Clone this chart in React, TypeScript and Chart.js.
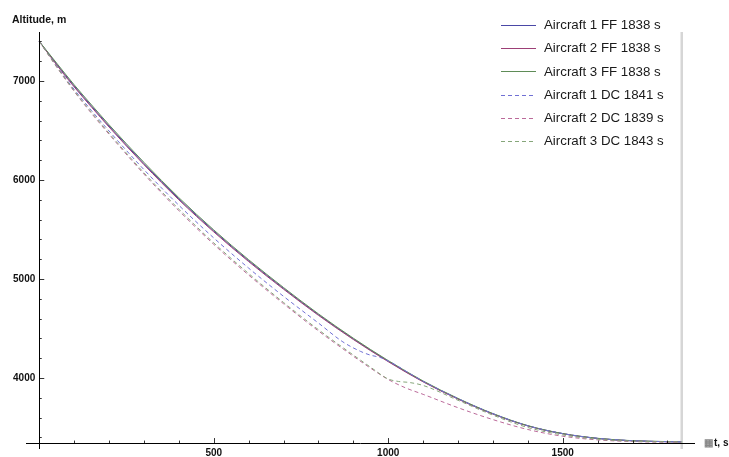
import { useEffect, useRef } from "react";
import { Chart, registerables } from "chart.js";

Chart.register(...registerables);

// Plot window (time in s, altitude in m)
const X_MIN = -38;
const X_MAX = 1879;
const Y_MIN = 3283;
const Y_MAX = 7495;
const AXIS_ORIGIN_T = 0;
const AXIS_ORIGIN_H = 3343;

const X_MAJOR_TICKS = [500, 1000, 1500];
const X_MINOR_TICKS = [100, 200, 300, 400, 600, 700, 800, 900, 1100, 1200, 1300, 1400, 1600, 1700, 1800];
const Y_MAJOR_TICKS = [4000, 5000, 6000, 7000];
const Y_MINOR_TICKS = [3400, 3600, 3800, 4200, 4400, 4600, 4800, 5200, 5400, 5600, 5800, 6200, 6400, 6600, 6800, 7200, 7400];

const END_TIME = 1841;

// Free-flight (FF) trajectories
const FF_T = [0, 50, 100, 150, 200, 300, 400, 500, 600, 700, 800, 900, 1000, 1100, 1200, 1300, 1400, 1500, 1600, 1700, 1800, 1838];
const FF1_ALT = [7400, 7170, 6950, 6745, 6545, 6165, 5810, 5485, 5185, 4905, 4640, 4395, 4170, 3965, 3790, 3638, 3517, 3438, 3390, 3366, 3357, 3355];
const FF2_ALT = [7400, 7162, 6940, 6735, 6535, 6155, 5800, 5476, 5176, 4897, 4633, 4389, 4165, 3961, 3787, 3636, 3516, 3437, 3389, 3365, 3357, 3355];
const FF3_ALT = [7400, 7180, 6962, 6758, 6558, 6178, 5822, 5496, 5195, 4914, 4648, 4402, 4176, 3970, 3794, 3641, 3519, 3439, 3391, 3367, 3358, 3355];

// Deconflicted (DC) trajectories
const DC1_T = [0, 50, 100, 150, 200, 300, 400, 500, 600, 700, 800, 870, 920, 950, 975, 1000, 1100, 1200, 1300, 1400, 1500, 1600, 1700, 1800, 1841];
const DC1_ALT = [7400, 7150, 6915, 6700, 6495, 6105, 5745, 5415, 5110, 4825, 4555, 4365, 4270, 4230, 4210, 4172, 3967, 3792, 3640, 3518, 3439, 3391, 3367, 3357, 3355];
const DC2_T = [0, 50, 100, 150, 200, 300, 400, 500, 600, 700, 800, 900, 950, 1000, 1050, 1100, 1200, 1300, 1400, 1500, 1600, 1700, 1800, 1839];
const DC2_ALT = [7400, 7140, 6895, 6672, 6462, 6060, 5690, 5350, 5040, 4750, 4475, 4220, 4098, 3985, 3900, 3835, 3700, 3580, 3480, 3412, 3375, 3358, 3352, 3352];
const DC3_T = [0, 50, 100, 150, 200, 300, 400, 500, 600, 700, 800, 900, 950, 1000, 1030, 1060, 1100, 1200, 1300, 1400, 1500, 1600, 1700, 1800, 1843];
const DC3_ALT = [7400, 7145, 6902, 6682, 6473, 6073, 5705, 5365, 5055, 4763, 4488, 4232, 4108, 3990, 3965, 3955, 3925, 3775, 3625, 3500, 3425, 3382, 3362, 3355, 3354];

const SERIES_NAMES = [
  "Aircraft 1 FF 1838 s",
  "Aircraft 2 FF 1838 s",
  "Aircraft 3 FF 1838 s",
  "Aircraft 1 DC 1841 s",
  "Aircraft 2 DC 1839 s",
  "Aircraft 3 DC 1843 s",
];

const COLORS = ["#4a48a6", "#9c3f76", "#5f8c57", "#7070d4", "#bb6a9a", "#86a67a"];
const DASHED = [false, false, false, true, true, true];

const FONT = '"Liberation Sans", Arial, sans-serif';

const pts = (t: number[], h: number[]) => t.map((x, i) => ({ x, y: h[i] }));

const axesPlugin = {
  id: "mmaAxes",
  afterDraw(chart: any) {
    const { ctx, scales, chartArea } = chart;
    const xs = scales.x;
    const ys = scales.y;
    const x0 = xs.getPixelForValue(AXIS_ORIGIN_T);
    const y0 = ys.getPixelForValue(AXIS_ORIGIN_H);
    ctx.save();
    ctx.strokeStyle = "#000";
    ctx.lineWidth = 1;
    ctx.beginPath();
    ctx.moveTo(chartArea.left, Math.round(y0) + 0.5);
    ctx.lineTo(chartArea.right, Math.round(y0) + 0.5);
    ctx.moveTo(Math.round(x0) + 0.5, chartArea.top);
    ctx.lineTo(Math.round(x0) + 0.5, chartArea.bottom);
    ctx.stroke();

    ctx.lineWidth = 0.8;
    ctx.beginPath();
    for (const v of X_MAJOR_TICKS) {
      const px = Math.round(xs.getPixelForValue(v)) + 0.5;
      ctx.moveTo(px, y0);
      ctx.lineTo(px, y0 - 5);
    }
    for (const v of X_MINOR_TICKS) {
      const px = Math.round(xs.getPixelForValue(v)) + 0.5;
      ctx.moveTo(px, y0);
      ctx.lineTo(px, y0 - 2.5);
    }
    for (const v of Y_MAJOR_TICKS) {
      const py = Math.round(ys.getPixelForValue(v)) + 0.5;
      ctx.moveTo(x0, py);
      ctx.lineTo(x0 + 5, py);
    }
    for (const v of Y_MINOR_TICKS) {
      const py = Math.round(ys.getPixelForValue(v)) + 0.5;
      ctx.moveTo(x0, py);
      ctx.lineTo(x0 + 2.5, py);
    }
    ctx.stroke();

    ctx.fillStyle = "#111";
    ctx.font = `bold 10px ${FONT}`;
    ctx.textAlign = "center";
    ctx.textBaseline = "middle";
    for (const v of X_MAJOR_TICKS) {
      ctx.fillText(String(v), xs.getPixelForValue(v), y0 + 10);
    }
    ctx.textAlign = "right";
    for (const v of Y_MAJOR_TICKS) {
      ctx.fillText(String(v), x0 - 4, ys.getPixelForValue(v) + 0.5);
    }

    // axis titles
    ctx.textAlign = "left";
    ctx.font = `bold 10.5px ${FONT}`;
    ctx.fillText("Altitude, m", 12, 20);
    ctx.font = `bold 10px ${FONT}`;
    ctx.fillStyle = "#888";
    ctx.fillText("\u25A6", 704, y0 + 0.5);
    ctx.fillStyle = "#111";
    ctx.fillText("t, s", 714, y0 + 0.5);

    // legend
    ctx.font = `13.3px ${FONT}`;
    ctx.textBaseline = "middle";
    SERIES_NAMES.forEach((name, i) => {
      const cy = 25 + i * 23.2;
      ctx.strokeStyle = COLORS[i];
      ctx.lineWidth = 1;
      ctx.setLineDash(DASHED[i] ? [4, 3] : []);
      ctx.beginPath();
      ctx.moveTo(501, Math.round(cy) + 0.5);
      ctx.lineTo(536, Math.round(cy) + 0.5);
      ctx.stroke();
      ctx.setLineDash([]);
      ctx.fillStyle = "#1a1a1a";
      ctx.fillText(name, 544, cy + 0.5);
    });
    ctx.restore();
  },
};

export default function App() {
  const canvasRef = useRef<HTMLCanvasElement | null>(null);

  useEffect(() => {
    document.body.style.margin = "0";
    const canvas = canvasRef.current;
    if (!canvas) return;

    const series = [
      pts(FF_T, FF1_ALT),
      pts(FF_T, FF2_ALT),
      pts(FF_T, FF3_ALT),
      pts(DC1_T, DC1_ALT),
      pts(DC2_T, DC2_ALT),
      pts(DC3_T, DC3_ALT),
    ];

    const datasets: any[] = [
      {
        label: "end",
        data: [
          { x: END_TIME, y: Y_MAX },
          { x: END_TIME, y: Y_MIN },
        ],
        borderColor: "#d6d6d6",
        borderWidth: 2.5,
        pointRadius: 0,
        order: 10,
      },
      ...series.map((data, i) => ({
        label: SERIES_NAMES[i],
        data,
        borderColor: COLORS[i],
        borderWidth: 1,
        borderDash: DASHED[i] ? [4, 3] : [],
        pointRadius: 0,
        cubicInterpolationMode: "monotone",
        fill: false,
        order: 6 - i,
      })),
    ];

    const chart = new Chart(canvas, {
      type: "line",
      data: { datasets },
      options: {
        animation: false,
        responsive: false,
        events: [],
        layout: { padding: { left: 26, right: 34, top: 32, bottom: 8 } },
        scales: {
          x: { type: "linear", min: X_MIN, max: X_MAX, display: false },
          y: { type: "linear", min: Y_MIN, max: Y_MAX, display: false },
        },
        plugins: { legend: { display: false }, tooltip: { enabled: false } },
      },
      plugins: [axesPlugin],
    });

    return () => chart.destroy();
  }, []);

  return (
    <div style={{ width: 729, height: 457, background: "#fff" }}>
      <canvas ref={canvasRef} width={729} height={457} style={{ display: "block" }} />
    </div>
  );
}
